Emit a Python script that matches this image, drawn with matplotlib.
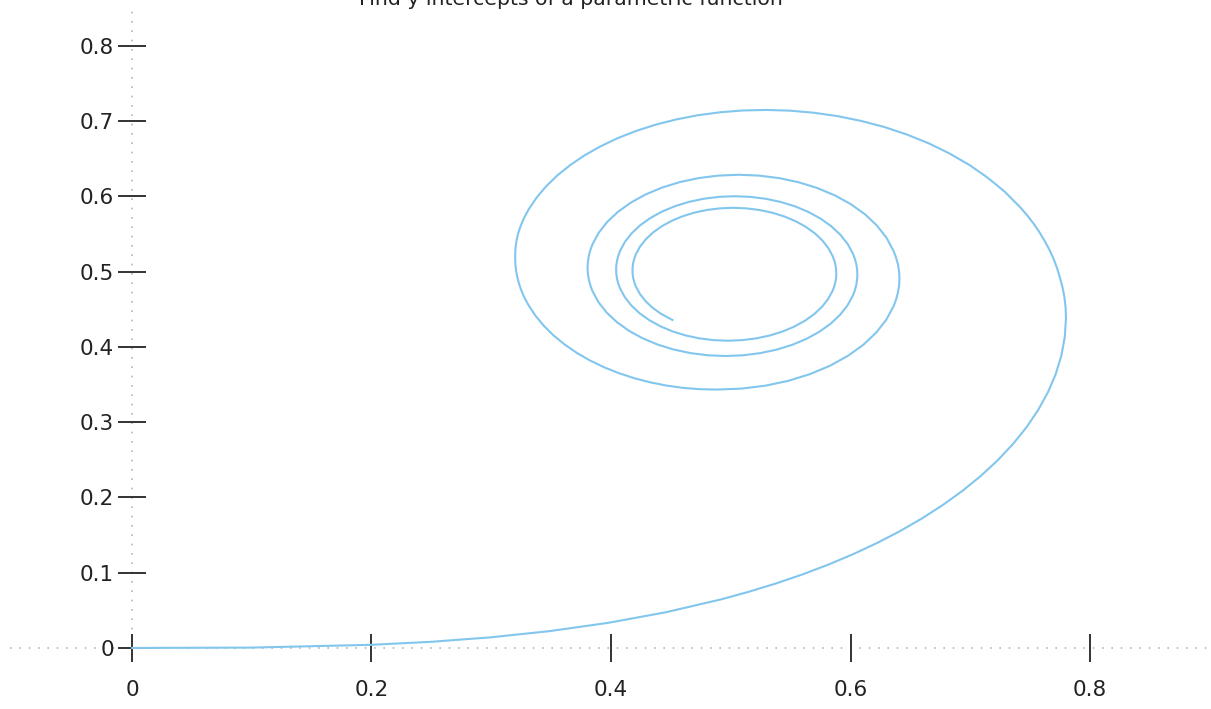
import matplotlib
matplotlib.use("Agg")
import matplotlib.pyplot as plt

# points along the curve, in order from the origin to the inner end
spiral_x = [
    0.0, 0.09999, 0.19992, 0.24976, 0.29940, 0.34870, 0.39748, 0.44547, 0.49234, 0.51524,
    0.53771, 0.55968, 0.58110, 0.60188, 0.62195, 0.64124, 0.65965, 0.67711, 0.69352, 0.70880,
    0.72284, 0.73556, 0.74686, 0.75664, 0.76482, 0.77132, 0.77604, 0.77892, 0.77989,
    0.77960, 0.77866, 0.77706, 0.77483, 0.77243, 0.76946, 0.76591, 0.76181, 0.75745, 0.75257,
    0.74720, 0.74137,
    0.72882, 0.71464, 0.69938, 0.68283, 0.66548, 0.64718, 0.62837, 0.60895, 0.58930, 0.56938,
    0.54950, 0.52967, 0.51014, 0.49096, 0.47234, 0.45434, 0.43711, 0.42075, 0.40535, 0.39102,
    0.37783, 0.36588, 0.35518, 0.34584, 0.33785, 0.33129,
    0.32853, 0.32614, 0.32411, 0.32246, 0.32129, 0.32049, 0.32006, 0.31999, 0.32014, 0.32067,
    0.32155, 0.32278, 0.32431, 0.32618, 0.32839, 0.33093,
    0.33685, 0.34398, 0.35216, 0.36139, 0.37150, 0.38248, 0.39416, 0.40651, 0.41937, 0.43268,
    0.44630, 0.46015, 0.47420, 0.48825,
    0.50885, 0.52893, 0.54819, 0.56624, 0.58283, 0.59767, 0.61058, 0.62134, 0.62985, 0.63596,
    0.63812, 0.63965, 0.64057, 0.64087, 0.64052, 0.63956, 0.63799, 0.63583, 0.62999, 0.62199,
    0.61203, 0.60029, 0.58701, 0.57242, 0.55682, 0.54044, 0.52361, 0.50660, 0.48972, 0.47323,
    0.45741, 0.44253, 0.42883, 0.41652, 0.40579, 0.39681, 0.38970, 0.38457, 0.38276, 0.38146,
    0.38069, 0.38044, 0.38069, 0.38146, 0.38273, 0.38450, 0.38948, 0.39630, 0.40481, 0.41486,
    0.42625, 0.43879, 0.45223, 0.46636, 0.48090, 0.49563, 0.51028, 0.52460, 0.53836, 0.55132,
    0.56329, 0.57405, 0.58344, 0.59131, 0.59756, 0.60207, 0.60366, 0.60480, 0.60548, 0.60571,
    0.60548, 0.60480, 0.60368, 0.60211, 0.59771, 0.59166, 0.58411, 0.57519, 0.56505, 0.55390,
    0.54191, 0.52931, 0.51632, 0.50316, 0.49005, 0.47721, 0.46487, 0.45323, 0.44249, 0.43281,
    0.42435, 0.41726, 0.41163, 0.40755, 0.40612, 0.40509, 0.40447, 0.40427, 0.40447, 0.40508,
    0.40610, 0.40752, 0.41152, 0.41700, 0.42385, 0.43197, 0.44118, 0.45133, 0.46224, 0.47373,
    0.48557, 0.49759, 0.50956, 0.52129, 0.53257, 0.54322, 0.55306, 0.56193, 0.56969, 0.57620,
    0.58136, 0.58510, 0.58642, 0.58737, 0.58794, 0.58812, 0.58794, 0.58737, 0.58643, 0.58513,
    0.58145, 0.57640, 0.57007, 0.56259, 0.55408, 0.54470, 0.53462, 0.52400, 0.51304, 0.50192,
    0.49083, 0.47997, 0.46951, 0.45963, 0.45050, 0.44227, 0.43507, 0.42902, 0.42421, 0.42073,
    0.41951, 0.41863, 0.41810, 0.41792, 0.41810, 0.41863, 0.41950, 0.42071, 0.42414, 0.42885,
    0.43475, 0.44174, 0.45137,
]
spiral_y = [
    0.0, 0.00052, 0.00419, 0.00818, 0.01412, 0.02239, 0.03336, 0.04737, 0.06473, 0.07476,
    0.08572, 0.09764, 0.11054, 0.12443, 0.13933, 0.15523, 0.17214, 0.19002, 0.20888, 0.22866,
    0.24934, 0.27086, 0.29316, 0.31616, 0.33977, 0.36391, 0.38846, 0.41330, 0.43826,
    0.45203, 0.46562, 0.47903, 0.49222, 0.50496, 0.51747, 0.52973, 0.54170, 0.55329, 0.56458,
    0.57554, 0.58617,
    0.60624, 0.62479, 0.64173, 0.65696, 0.67051, 0.68225, 0.69225, 0.70037, 0.70675, 0.71126,
    0.71404, 0.71500, 0.71431, 0.71188, 0.70792, 0.70233, 0.69537, 0.68696, 0.67734, 0.66647,
    0.65459, 0.64169, 0.62799, 0.61351, 0.59847, 0.58291,
    0.57501, 0.56703, 0.55898, 0.55088, 0.54279, 0.53469, 0.52660, 0.51854, 0.51044, 0.50239,
    0.49440, 0.48650, 0.47871, 0.47103, 0.46347, 0.45605,
    0.44169, 0.42803, 0.41516, 0.40316, 0.39210, 0.38206, 0.37307, 0.36522, 0.35851, 0.35301,
    0.34871, 0.34565, 0.34390, 0.34342,
    0.34465, 0.34856, 0.35507, 0.36400, 0.37505, 0.38809, 0.40278, 0.41891, 0.43613, 0.45417,
    0.46338, 0.47267, 0.48201, 0.49135, 0.50067, 0.50991, 0.51902, 0.52797, 0.54523, 0.56144,
    0.57636, 0.58974, 0.60139, 0.61113, 0.61884, 0.62439, 0.62774, 0.62885, 0.62775, 0.62447,
    0.61911, 0.61177, 0.60262, 0.59182, 0.57959, 0.56614, 0.55174, 0.53661, 0.52887, 0.52105,
    0.51318, 0.50530, 0.49745, 0.48965, 0.48194, 0.47436, 0.45968, 0.44585, 0.43311, 0.42165,
    0.41165, 0.40328, 0.39665, 0.39186, 0.38896, 0.38799, 0.38895, 0.39180, 0.39647, 0.40287,
    0.41085, 0.42029, 0.43100, 0.44279, 0.45544, 0.46873, 0.47555, 0.48244, 0.48937, 0.49632,
    0.50325, 0.51013, 0.51694, 0.52365, 0.53664, 0.54889, 0.56020, 0.57037, 0.57926, 0.58672,
    0.59263, 0.59690, 0.59949, 0.60035, 0.59950, 0.59694, 0.59276, 0.58702, 0.57984, 0.57135,
    0.56171, 0.55109, 0.53968, 0.52768, 0.52152, 0.51529, 0.50903, 0.50274, 0.49647, 0.49024,
    0.48407, 0.47800, 0.46622, 0.45511, 0.44484, 0.43560, 0.42752, 0.42073, 0.41535, 0.41145,
    0.40909, 0.40831, 0.40909, 0.41142, 0.41525, 0.42050, 0.42708, 0.43486, 0.44369, 0.45344,
    0.46391, 0.47494, 0.48059, 0.48632, 0.49208, 0.49786, 0.50363, 0.50936, 0.51504, 0.52063,
    0.53148, 0.54173, 0.55119, 0.55972, 0.56719, 0.57345, 0.57843, 0.58203, 0.58421, 0.58494,
    0.58421, 0.58205, 0.57851, 0.57363, 0.56753, 0.56031, 0.55210, 0.54305, 0.53332, 0.52306,
    0.51780, 0.51248, 0.50711, 0.50173, 0.49636, 0.49102, 0.48573, 0.48052, 0.47041, 0.46086,
    0.45203, 0.44407, 0.43585,
]

x_ticks = [0, 0.2, 0.4, 0.6, 0.8]
x_tick_labels = ["0", "0.2", "0.4", "0.6", "0.8"]
y_ticks = [0, 0.1, 0.2, 0.3, 0.4, 0.5, 0.6, 0.7, 0.8]
y_tick_labels = ["0", "0.1", "0.2", "0.3", "0.4", "0.5", "0.6", "0.7", "0.8"]

title = "Find y intercepts of a parametric function"

fig = plt.figure(figsize=(12.11, 7.09), dpi=100)
ax = fig.add_axes([0, 0, 1, 1])
ax.set_xlim(-0.1102, 0.9010)
ax.set_ylim(-0.0811, 0.8611)

# dotted zero lines instead of spines
ax.plot([-0.102, 0.9010], [0, 0], color="#b4b4b4", lw=1.2, dashes=(1, 4.6), zorder=1)
ax.plot([0, 0], [0, 0.846], color="#b4b4b4", lw=1.2, dashes=(1, 4.6), zorder=1)

ax.plot(spiral_x, spiral_y, color="#82c6ee", lw=1.5, zorder=2, solid_joinstyle="round")

for side in ["top", "right"]:
    ax.spines[side].set_visible(False)
ax.spines["bottom"].set_position(("data", 0))
ax.spines["left"].set_position(("data", 0))
ax.spines["bottom"].set_color("none")
ax.spines["left"].set_color("none")

ax.set_xticks(x_ticks)
ax.set_xticklabels(x_tick_labels)
ax.set_yticks(y_ticks)
ax.set_yticklabels(y_tick_labels)
ax.tick_params(direction="inout", length=20, width=1.4, color="#333333",
               labelcolor="#222222", labelsize=15.5)
ax.tick_params(axis="x", pad=13)
ax.tick_params(axis="y", pad=3)

fig.text(571 / 1211, 704 / 709, title, ha="center", va="baseline",
         fontsize=14.7, color="#222222")

fig.savefig("out.png", dpi=100)
